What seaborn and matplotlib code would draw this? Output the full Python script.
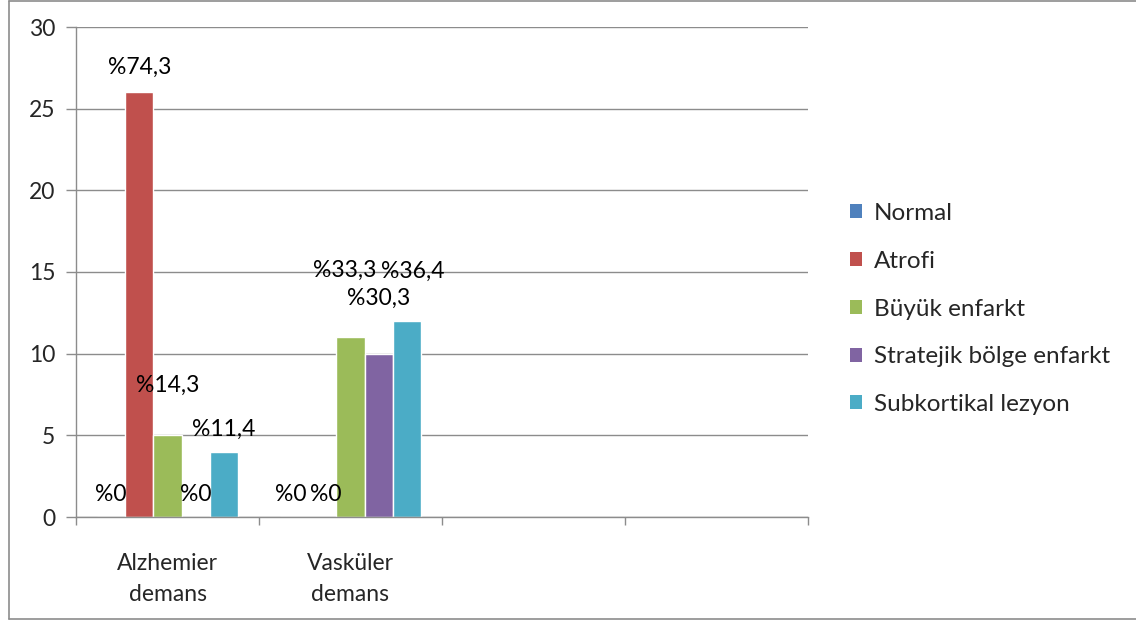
import matplotlib
matplotlib.use("Agg")
import matplotlib.pyplot as plt
from matplotlib.patches import Patch
from matplotlib.lines import Line2D
import seaborn as sns
import pandas as pd

# Chart data
categories = ["Alzhemier\ndemans", "Vasküler\ndemans", "Kategori 3", "Kategori 4"]
series = ["Normal", "Atrofi", "Büyük enfarkt", "Stratejik bölge enfarkt", "Subkortikal lezyon"]
alzheimer_values = [0, 26, 5, 0, 4]
vaskuler_values = [0, 0, 11, 10, 12]
alzheimer_labels = ["%0", "%74,3", "%14,3", "%0", "%11,4"]
vaskuler_labels = ["%0", "%0", "%33,3", "%30,3", "%36,4"]
y_ticks = [0, 5, 10, 15, 20, 25, 30]

colors = ["#4F81BD", "#C0504D", "#9BBB59", "#8064A2", "#4BACC6"]

# Label offsets (points) from each bar's top centre
alzheimer_offsets = [(0, 16), (0, 18), (0, 36), (0, 16), (0, 16)]
vaskuler_offsets = [(-2.5, 16), (2.5, 16), (-4, 48), (0, 40), (4, 36)]

rows = []
for s, a, v in zip(series, alzheimer_values, vaskuler_values):
    rows.append({"kategori": categories[0], "seri": s, "deger": a})
    rows.append({"kategori": categories[1], "seri": s, "deger": v})
df = pd.DataFrame(rows)

sns.set_theme(style="white")
plt.rcParams["font.family"] = ["Lato", "DejaVu Sans"]
FS = 16.5

fig = plt.figure(figsize=(11.36, 6.2), dpi=100)
ax = fig.add_axes([76 / 1136, 1 - 517 / 620, (808 - 76) / 1136, (517 - 27) / 620])

sns.barplot(data=df, x="kategori", y="deger", hue="seri", order=categories,
            hue_order=series, palette=colors, width=0.77, ax=ax,
            legend=False, saturation=1, errorbar=None)

ax.set_xlim(-0.5, 3.5)
ax.set_ylim(0, 30)
ax.set_yticks(y_ticks)
ax.set_yticklabels([str(t) for t in y_ticks], fontsize=FS)
ax.yaxis.grid(True, color="#8C8C8C", linewidth=1)
ax.set_axisbelow(True)
ax.set_xlabel("")
ax.set_ylabel("")

# Category labels centred in their slots, ticks on slot boundaries
ax.set_xticks([0, 1])
ax.set_xticklabels(categories[:2], fontsize=FS, linespacing=1.6)
ax.tick_params(axis="x", which="major", length=0, pad=26)
ax.set_xticks([-0.5, 0.5, 1.5, 2.5, 3.5], minor=True)
ax.tick_params(axis="x", which="minor", length=6, color="#8C8C8C", width=1, direction="out")
ax.tick_params(axis="y", length=7, color="#8C8C8C", width=1, direction="out", pad=8)
ax.yaxis.set_ticks_position("left")
ax.xaxis.set_ticks_position("bottom")

for side in ["top", "right"]:
    ax.spines[side].set_visible(False)
for side in ["left", "bottom"]:
    ax.spines[side].set_color("#8C8C8C")
    ax.spines[side].set_linewidth(1)

# Percentage labels on every bar
for i, container in enumerate(ax.containers):
    bars = list(container)
    for j, (labels, offsets) in enumerate([(alzheimer_labels, alzheimer_offsets),
                                           (vaskuler_labels, vaskuler_offsets)]):
        bar = bars[j]
        x = bar.get_x() + bar.get_width() / 2
        ax.annotate(labels[i], (x, bar.get_height()), xytext=offsets[i],
                    textcoords="offset points", ha="center", va="center",
                    fontsize=FS, color="black", annotation_clip=False)

handles = [Patch(facecolor=c, edgecolor="none") for c in colors]
fig.legend(handles, series, loc="center left", bbox_to_anchor=(840 / 1136, 1 - 309 / 620),
           frameon=False, fontsize=17.5, handlelength=0.5, handleheight=0.5,
           handletextpad=0.5, labelspacing=1.1, borderaxespad=0)

# Outer chart frame (left, top, bottom edges)
frame = dict(color="#8C8C8C", linewidth=1.2, transform=fig.transFigure)
x0, x1 = 8.5 / 1136, 1.0
y0, y1 = 1 - 618.5 / 620, 1 - 0.8 / 620
fig.add_artist(Line2D([x0, x0], [y0, y1], **frame))
fig.add_artist(Line2D([x0, x1], [y1, y1], **frame))
fig.add_artist(Line2D([x0, x1], [y0, y0], **frame))

fig.savefig("out.png", dpi=100)
